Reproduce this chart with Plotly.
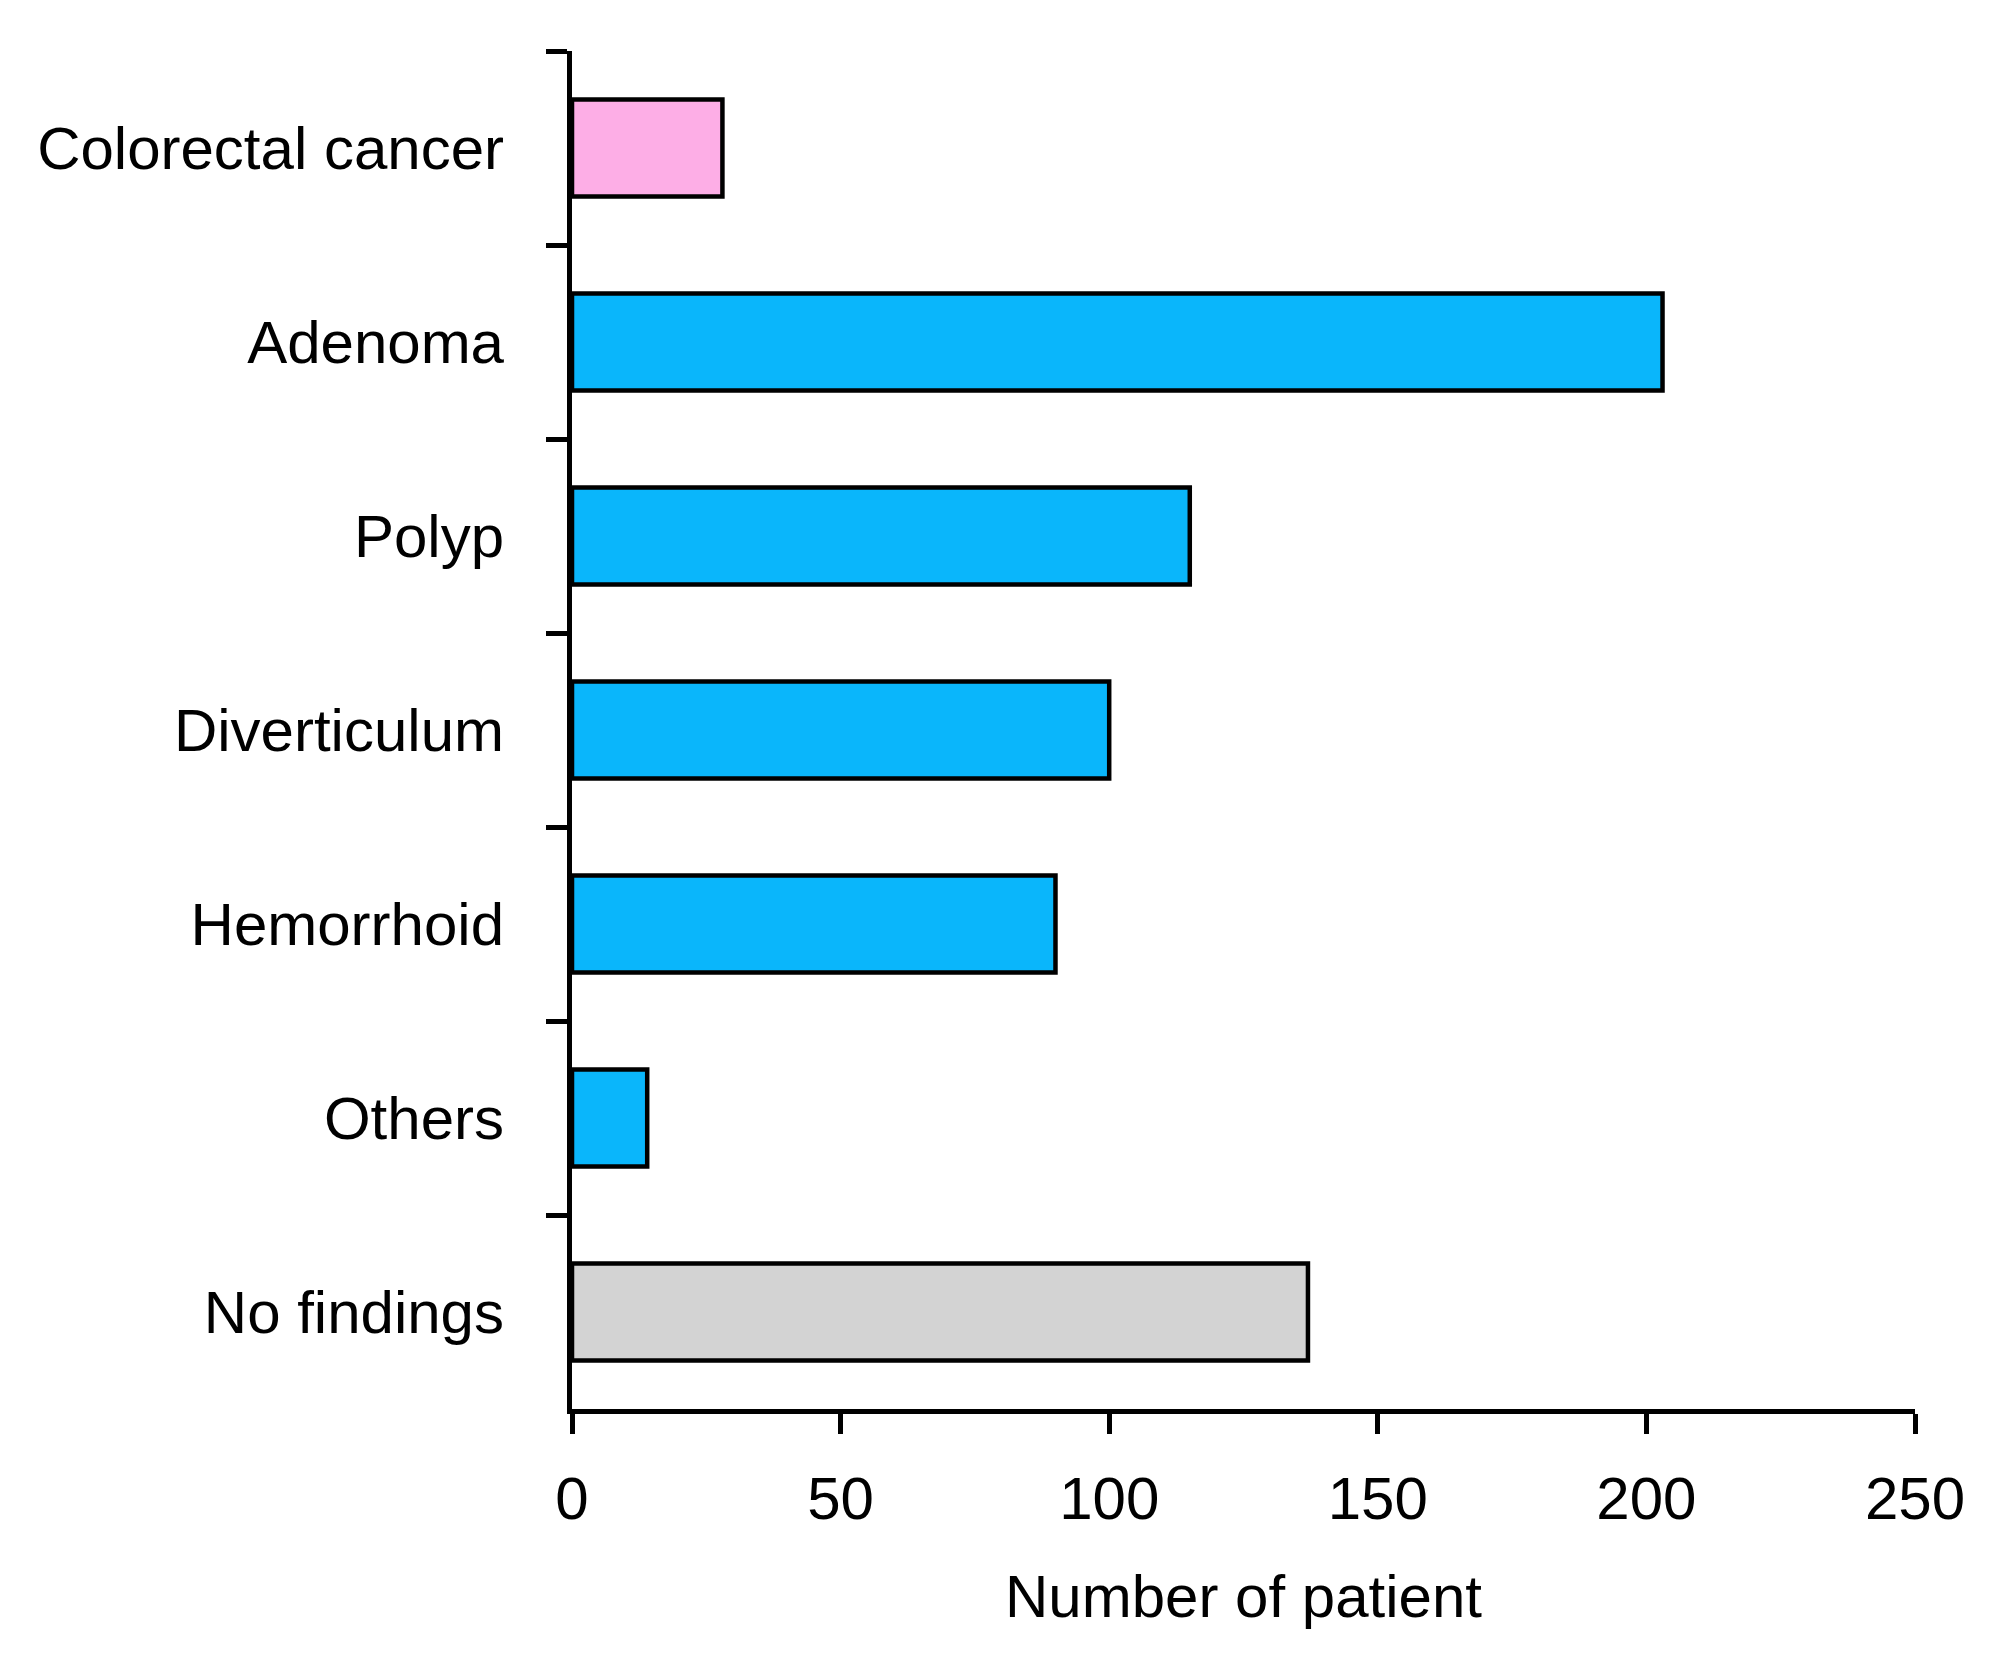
import plotly.graph_objects as go

categories = ["Colorectal cancer", "Adenoma", "Polyp", "Diverticulum", "Hemorrhoid", "Others", "No findings"]
values = [28, 203, 115, 100, 90, 14, 137]
colors = ["#FDAEE6", "#0AB6FB", "#0AB6FB", "#0AB6FB", "#0AB6FB", "#0AB6FB", "#D3D3D3"]
x_ticks = [0, 50, 100, 150, 200, 250]
x_title = "Number of patient"

FONT = "Liberation Sans, Arial, Helvetica, sans-serif"

fig = go.Figure(go.Bar(
    y=categories,
    x=values,
    orientation="h",
    marker=dict(color=colors, line=dict(color="black", width=4.5)),
    width=0.5,
))

fig.update_layout(
    width=1992, height=1672,
    margin=dict(l=564, r=85, t=43, b=271),
    paper_bgcolor="white", plot_bgcolor="white",
    font=dict(family=FONT, size=60, color="black"),
    showlegend=False,
)
fig.update_xaxes(
    range=[0, 250], tickvals=x_ticks, ticktext=[str(v) for v in x_ticks],
    showline=True, linecolor="black", linewidth=5,
    ticks="outside", ticklen=20, tickwidth=5, tickcolor="black",
    showgrid=False, zeroline=False,
    title=dict(text=x_title, standoff=45, font=dict(size=60)),
    tickfont=dict(size=60),
    ticklabelstandoff=13,
)
fig.update_yaxes(
    categoryorder="array", categoryarray=categories, autorange="reversed",
    range=[6.5, -0.5],
    showline=True, linecolor="black", linewidth=5,
    ticks="outside", ticklen=21, tickwidth=5, tickcolor="black",
    tickson="boundaries",
    showgrid=False, zeroline=False,
    tickfont=dict(size=60),
    ticklabelstandoff=51,
)

fig.write_html("out.html")
